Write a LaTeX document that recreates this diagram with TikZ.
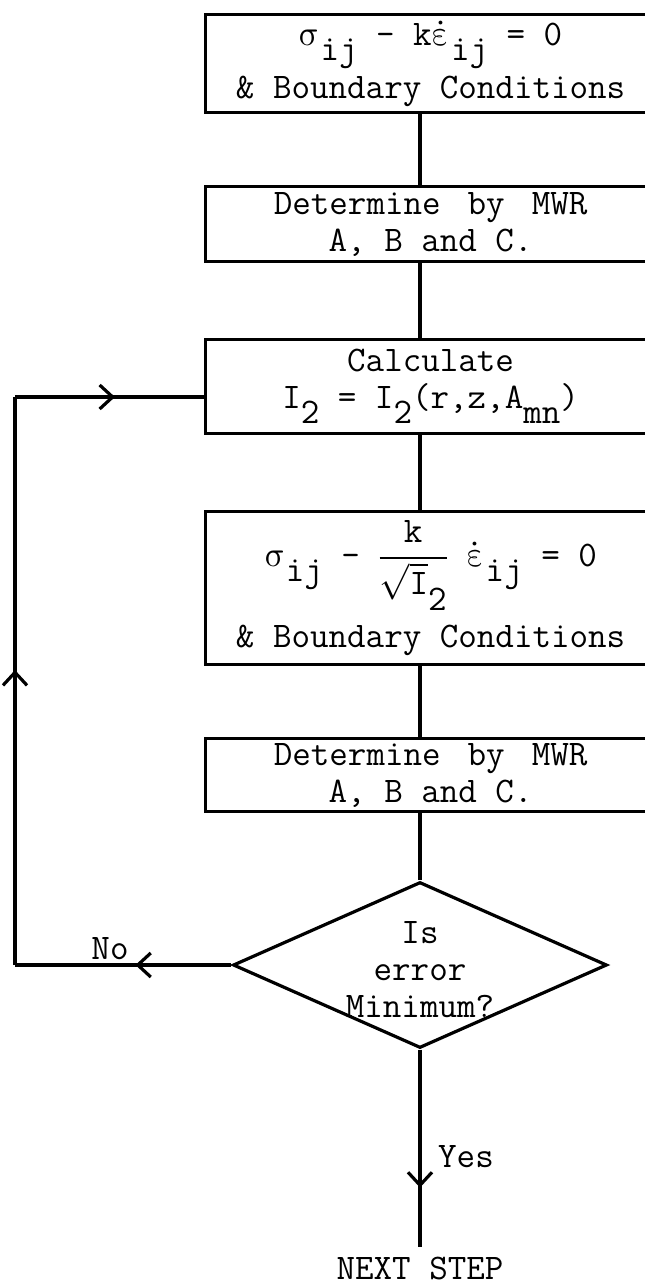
\documentclass[tikz,border=0pt]{standalone}
\usepackage{fontspec}
\usepackage{unicode-math}
\setmathfont{Latin Modern Math}
\usetikzlibrary{arrows.meta,decorations.markings,shapes.geometric}
\newcommand\lowsub[1]{\raisebox{-0.42em}{#1}}
\newcommand\sig{$\symup{\sigma}$}
\newcommand\epsd{$\dot{\symup{\varepsilon}}$}
\begin{document}
\begin{tikzpicture}[x=1pt,y=-1pt,
  >={Straight Barb[length=13pt,width=24pt]},
  every node/.style={font=\fontsize{36}{37}\selectfont\ttfamily},
  stepbox/.style={draw, line width=3.2pt, anchor=north west, minimum width=450pt, inner sep=0pt, align=center},
  conn/.style={line width=3.2pt},
  decision/.style={draw, diamond, line width=3.2pt, minimum width=374pt, minimum height=166pt, inner sep=0pt},
  plain/.style={inner sep=0pt, align=center}
]
\useasboundingbox (0,0) rectangle (645,1285);
\clip (0,0) rectangle (645,1285);
\coordinate (cx) at (420,0);
\coordinate (lx) at (15,0);
\coordinate (ly) at (0,397);

\node[stepbox, minimum height=98pt] (b1) at (204,13)
  {\sig\lowsub{ij} - k\epsd\lowsub{ij} = 0\\[6pt] \& Boundary Conditions};
\node[stepbox, minimum height=75pt] (b2) at (204,185)
  {Determine\hspace{0.75em}by\hspace{0.75em}MWR\\A, B and C.};
\node[stepbox, minimum height=94pt] (b3) at (204,338)
  {Calculate\\I\lowsub{2} = I\lowsub{2}(r,z,A\lowsub{mn})};
\node[stepbox, minimum height=153pt] (b4) at (204,510)
  {\sig\lowsub{ij} - $\dfrac{\text{k}}{\sqrt{\text{I}}\lowsub{2}}$ \epsd\lowsub{ij} = 0\\[14pt] \& Boundary Conditions};
\node[stepbox, minimum height=73pt] (b5) at (204,737)
  {Determine\hspace{0.75em}by\hspace{0.75em}MWR\\A, B and C.};
\node[decision] (d) at (420,965) {};
\node[plain] (dt) at (420,970) {Is\\error\\Minimum?};
\coordinate (end) at (420,1247);
\node[plain, anchor=base, text depth=0pt] (next) at (420,1279) {NEXT STEP};
\node[plain, anchor=south west] (yes) at (438,1168) {Yes};
\node[plain, anchor=south] (no) at (110,960) {No};

\draw[conn] (b1.south -| cx) -- (b2.north -| cx);
\draw[conn] (b2.south -| cx) -- (b3.north -| cx);
\draw[conn] (b3.south -| cx) -- (b4.north -| cx);
\draw[conn] (b4.south -| cx) -- (b5.north -| cx);
\draw[conn] (b5.south -| cx) -- (d.north);
\draw[conn, postaction={decorate}, decoration={markings, mark=at position 138pt with {\arrow{>}}}] (d.south) -- (end);
\draw[conn, postaction={decorate}, decoration={markings, mark=at position 96pt with {\arrow{>}}}] (d.west) -- (d.west -| lx);
\draw[conn, postaction={decorate}, decoration={markings, mark=at position 295pt with {\arrow{>}}}] (d.west -| lx) -- (lx |- ly);
\draw[conn, postaction={decorate}, decoration={markings, mark=at position 100pt with {\arrow{>}}}] (lx |- ly) -- (b3.west |- ly);
\end{tikzpicture}
\end{document}
